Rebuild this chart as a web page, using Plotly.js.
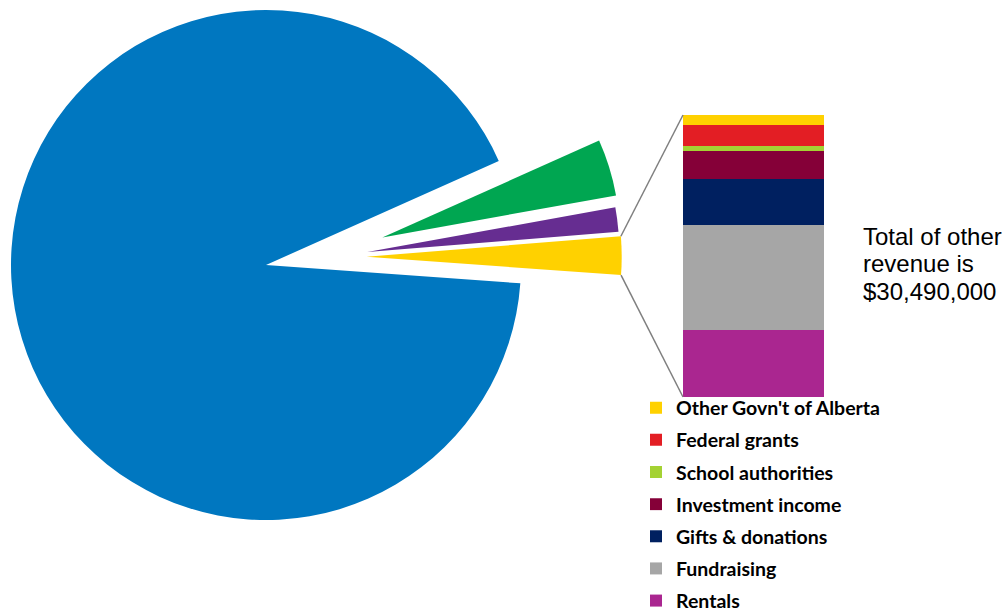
<!DOCTYPE html>
<html>
<head>
<meta charset="utf-8">
<script src="https://cdn.plot.ly/plotly-3.0.1.min.js"></script>
<style>
  html, body { margin: 0; padding: 0; background: #ffffff; overflow: hidden; width: 1008px; height: 611px; }
  #chart { position: absolute; left: 0; top: 0; width: 1008px; height: 611px; }
</style>
</head>
<body>
<div id="chart"></div>
<script>
// ---------------- DATA ----------------
// Pie: overall revenue (dollars); the last slice is "other revenue", broken down in the bar
const pieLabels = ["Main revenue", "Revenue source 2", "Revenue source 3", "Other revenue"];
const pieMainValues = [1158700000, 48500000, 19600000]; // first three slices

// Bar: breakdown of other revenue (dollars), listed bottom -> top of the stack
const barCategories = ["Rentals", "Fundraising", "Gifts & donations", "Investment income",
                       "School authorities", "Federal grants", "Other Govn't of Alberta"];
const barValues = [7240000, 11320000, 5020000, 3000000, 540000, 2280000, 1090000];

// ---------------- STYLE ----------------
const pieColors = ["#0077C0", "#00A651", "#662D91", "#FFD100"];
const barColors = ["#AA2690", "#A6A6A6", "#002060", "#850038", "#A4D233", "#E31E24", "#FFD100"];

// ---------------- LAYOUT HELPERS ----------------
const W = 1008, H = 611;
const fx = x => x / W;
const fy = y => Math.min(1, Math.max(0, 1 - y / H));

const otherTotal = barValues.reduce((a, b) => a + b, 0);
const pieValues = pieMainValues.concat([otherTotal]);
const pieTotal = pieValues.reduce((a, b) => a + b, 0);

// the small slices begin 65.9 degrees clockwise from 12 o'clock; the main slice comes first
const GREEN_START = 65.9;
const ROT = GREEN_START + 360 * (pieTotal - pieValues[0]) / pieTotal;

// centre and radius (page px) of the main slice and of each exploded slice
const pies = [
  { c: [266, 265], r: 255 },
  { c: [382.3, 237.5], r: 237.5 },
  { c: [367.3, 249], r: 255 },
  { c: [366.7, 256.7], r: 255 }
];

const traces = [];
pies.forEach((p, k) => {
  const colors = pieColors.map((col, i) => i === k ? col : "rgba(0,0,0,0)");
  traces.push({
    type: "pie",
    labels: pieLabels,
    values: pieValues,
    sort: false,
    direction: "clockwise",
    rotation: ROT,
    textinfo: "none",
    hoverinfo: k === 0 ? "label+value" : "skip",
    showlegend: false,
    marker: { colors: colors, line: { width: 0 } },
    domain: { x: [fx(p.c[0] - p.r), fx(p.c[0] + p.r)], y: [fy(p.c[1] + p.r), fy(p.c[1] - p.r)] }
  });
});

// stacked bar
const BAR_L = 683, BAR_R = 824, BAR_T = 115, BAR_B = 397;
barCategories.forEach((name, i) => {
  traces.push({
    type: "bar",
    name: name,
    x: ["Other revenue"],
    y: [barValues[i]],
    marker: { color: barColors[i], line: { width: 0 } },
    legendgroup: "g" + i,
    legendrank: barCategories.length - i,
    xaxis: "x", yaxis: "y",
    hovertemplate: name + ": $%{y:,}<extra></extra>"
  });
});

// connector lines from the "other revenue" slice to the bar
const before = pieMainValues.reduce((a, b) => a + b, 0);
const a0 = (ROT + 360 * before / pieTotal) * Math.PI / 180;
const a1 = (ROT + 360 * (before + otherTotal) / pieTotal) * Math.PI / 180;
const yp = pies[3];
const p0 = [yp.c[0] + yp.r * Math.sin(a0), yp.c[1] - yp.r * Math.cos(a0)];
const p1 = [yp.c[0] + yp.r * Math.sin(a1), yp.c[1] - yp.r * Math.cos(a1)];

const shapes = [
  { type: "line", xref: "paper", yref: "paper", x0: fx(p0[0]), y0: fy(p0[1]), x1: fx(BAR_L), y1: fy(BAR_T),
    line: { color: "#7F7F7F", width: 1.5 } },
  { type: "line", xref: "paper", yref: "paper", x0: fx(p1[0]), y0: fy(p1[1]), x1: fx(BAR_L), y1: fy(BAR_B),
    line: { color: "#7F7F7F", width: 1.5 } }
];

function fmtDollars(v) {
  return "$" + String(Math.round(v)).replace(/\B(?=(\d{3})+(?!\d))/g, ",");
}

// note text, one line per annotation (tighter line spacing, like the original)
const noteLines = ["Total of other", "revenue is", fmtDollars(otherTotal)];
const noteY = [236, 263.5, 291];
const annotations = noteLines.map((t, i) => ({
  xref: "paper", yref: "paper",
  x: fx(861), y: fy(noteY[i]),
  xanchor: "left", yanchor: "middle", align: "left",
  showarrow: false,
  text: t,
  font: { family: "'Liberation Sans', Arial, sans-serif", size: 24, color: "#000000" }
}));

const layout = {
  width: W, height: H,
  margin: { l: 0, r: 0, t: 0, b: 0, pad: 0, autoexpand: false },
  paper_bgcolor: "#ffffff",
  plot_bgcolor: "rgba(0,0,0,0)",
  barmode: "stack",
  bargap: 0,
  showlegend: true,
  xaxis: { domain: [fx(BAR_L), fx(BAR_R)], visible: false, fixedrange: true },
  yaxis: { domain: [fy(BAR_B), fy(BAR_T)], range: [0, otherTotal], visible: false, fixedrange: true },
  legend: {
    x: fx(636), xanchor: "left",
    y: fy(388.5), yanchor: "top",
    traceorder: "grouped",
    tracegroupgap: 3.8,
    bgcolor: "rgba(0,0,0,0)",
    font: { family: "Lato, 'Open Sans', sans-serif", size: 19.5, weight: "bold", color: "#000000" }
  },
  shapes: shapes,
  annotations: annotations
};

Plotly.newPlot("chart", traces, layout, { displayModeBar: false });
</script>
</body>
</html>
